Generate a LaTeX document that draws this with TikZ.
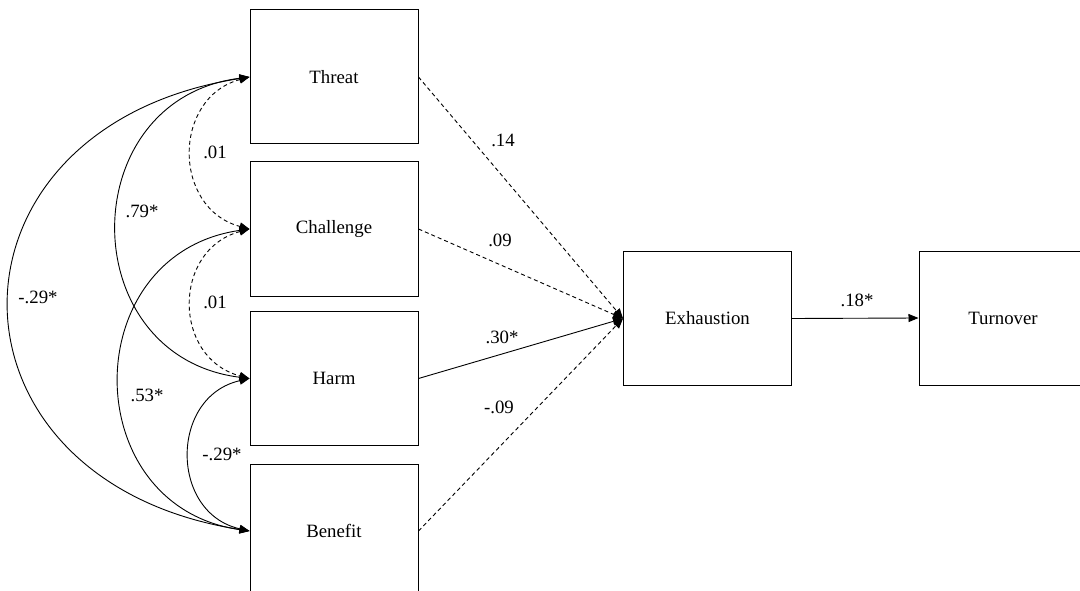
\documentclass[tikz,border=0pt]{standalone}
\usepackage{fontspec}
\setmainfont{Liberation Serif}
\usetikzlibrary{arrows.meta}
\begin{document}
\begin{tikzpicture}[x=1pt,y=-1pt,
  txt/.style={font=\fontsize{18.8}{22}\selectfont},
  box/.style={draw, line width=1pt, minimum width=168pt, minimum height=134pt, inner sep=0pt, txt},
  lbl/.style={inner sep=0pt, txt},
  tip/.style={Triangle[length=10pt,width=8pt]},
  conn/.style={line width=0.9pt, -{Triangle[length=10pt,width=8pt]}},
  biconn/.style={line width=0.9pt, {Triangle[length=10pt,width=8pt]}-{Triangle[length=10pt,width=8pt]}},
  dsh/.style={dash pattern=on 4pt off 3pt}]
\clip (0,0) rectangle (1080,591);
\fill[white] (0,0) rectangle (1080,591);
% boxes
\node[box] (thr) at (334,77) {Threat};
\node[box] (cha) at (334,229) {Challenge};
\node[box] (har) at (334,378.5) {Harm};
\node[box] (ben) at (334,531) {Benefit};
\node[box] (exh) at (707.5,318.5) {Exhaustion};
\node[box] (tur) at (1003,318) {Turnover};
% covariances
\draw[biconn,dsh] (thr.west) .. controls +(-77.3,20.7) and +(-77.3,-20.7) .. (cha.west);
\draw[biconn,dsh] (cha.west) .. controls +(-77.3,20.7) and +(-77.3,-20.7) .. (har.west);
\draw[biconn] (thr.west) .. controls +(-176.6,22.3) and +(-176.6,-22.3) .. (har.west);
\draw[biconn] (cha.west) .. controls +(-173.3,24.7) and +(-173.3,-24.7) .. (ben.west);
\draw[biconn] (thr.west) .. controls +(-320,50) and +(-320,-50) .. (ben.west);
\draw[biconn] (har.west) .. controls +(-80,18) and +(-80,-18) .. (ben.west);
% paths
\draw[conn,dsh] (thr.east) -- (exh.west);
\draw[conn,dsh] (cha.east) -- (exh.west);
\draw[conn] (har.east) -- (exh.west);
\draw[conn,dsh] (ben.east) -- (exh.west);
\draw[conn] (exh.east) -- (tur.west);
% labels
\node[lbl] (l1) at (215,152) {.01};
\node[lbl] (l2) at (215,302) {.01};
\node[lbl] (l3) at (142,211) {.79*};
\node[lbl] (l4) at (38,297) {-.29*};
\node[lbl] (l5) at (147,395) {.53*};
\node[lbl] (l6) at (222,454) {-.29*};
\node[lbl] (l7) at (503,140) {.14};
\node[lbl] (l8) at (500,240) {.09};
\node[lbl] (l9) at (502,337) {.30*};
\node[lbl] (l10) at (499,407) {-.09};
\node[lbl] (l11) at (857,300) {.18*};
\end{tikzpicture}
\end{document}
